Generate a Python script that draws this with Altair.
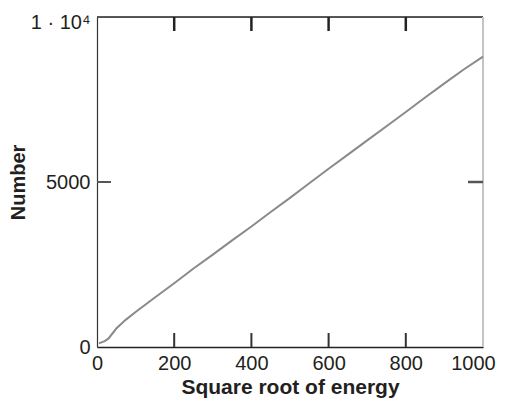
import altair as alt
import pandas as pd

# Data
sqrt_energy = [5, 20, 30, 50, 75, 100, 150, 200, 250, 300, 350, 400, 450, 500,
               550, 600, 650, 700, 750, 800, 850, 900, 950, 1000]
number = [110, 180, 260, 560, 830, 1060, 1500, 1930, 2380, 2800, 3230, 3650, 4090, 4520,
          4960, 5400, 5830, 6260, 6690, 7120, 7560, 7990, 8410, 8800]

x_ticks = [0, 200, 400, 600, 800, 1000]
y_ticks = [0, 5000, 10000]
x_inner_ticks = [200, 400, 600, 800]
y_inner_ticks = [5000]

W, H = 386, 330
FONT = "Liberation Sans"
TXT = "#231f20"

df = pd.DataFrame({"x": sqrt_energy, "y": number})
xt = pd.DataFrame({"x": x_inner_ticks})
yt = pd.DataFrame({"y": y_inner_ticks})

xscale = alt.Scale(domain=[0, 1000], nice=False, zero=False)
yscale = alt.Scale(domain=[0, 10000], nice=False, zero=False)

line = alt.Chart(df).mark_line(color="#8a8a8a", strokeWidth=2).encode(
    x=alt.X("x:Q", scale=xscale,
            axis=alt.Axis(title="Square root of energy", values=x_ticks, tickSize=0,
                          format="d",
                          grid=False, domainColor="#222", domainWidth=1.5,
                          labelFontSize=20, labelFont=FONT, labelColor=TXT, labelPadding=6,
                          labelOffset={"condition": {"test": "datum.value == 1000", "value": -10},
                                       "value": 0},
                          titleFontSize=21, titleFont=FONT, titleColor=TXT,
                          titleFontWeight="bold", titlePadding=3, labelFlush=False)),
    y=alt.Y("y:Q", scale=yscale,
            axis=alt.Axis(title="Number", values=y_ticks, tickSize=0, grid=False,
                          format="d",
                          domainColor="#333", domainWidth=1.2,
                          labelFontSize=20, labelFont=FONT, labelColor=TXT, labelPadding=7,
                          labelExpr="datum.value == 10000 ? '1 · 10⁴' : datum.label",
                          labelOffset={"condition": {"test": "datum.value == 10000", "value": 5},
                                       "value": 0},
                          titleFontSize=20, titleFont=FONT, titleColor=TXT,
                          titleFontWeight="bold", titlePadding=2, labelFlush=False)),
)

bottom_ticks = alt.Chart(xt).mark_rule(color="#333", strokeWidth=2).encode(
    x=alt.X("x:Q", scale=xscale), y=alt.value(H), y2=alt.value(H - 14))
top_ticks = alt.Chart(xt).mark_rule(color="#222", strokeWidth=2.5).encode(
    x=alt.X("x:Q", scale=xscale), y=alt.value(0), y2=alt.value(14))
left_ticks = alt.Chart(yt).mark_rule(color="#555", strokeWidth=2).encode(
    y=alt.Y("y:Q", scale=yscale), x=alt.value(0), x2=alt.value(14))
right_ticks = alt.Chart(yt).mark_rule(color="#555", strokeWidth=2.5).encode(
    y=alt.Y("y:Q", scale=yscale), x=alt.value(W - 15), x2=alt.value(W))

top_border = alt.Chart(yt).mark_rule(color="#222", strokeWidth=1.5).encode(
    x=alt.value(0), x2=alt.value(W), y=alt.value(0))
right_border = alt.Chart(yt).mark_rule(color="#c4c4c4", strokeWidth=2).encode(
    x=alt.value(W), y=alt.value(0), y2=alt.value(H))

chart = alt.layer(
    top_border, right_border, line, bottom_ticks, top_ticks, left_ticks, right_ticks
).properties(
    width=W, height=H,
    autosize=alt.AutoSizeParams(type="none"),
    padding={"left": 89, "top": 9, "right": 16, "bottom": 51},
).configure_view(stroke=None).configure(background="white")

chart.save("out.html", embed_options={"renderer": "svg", "actions": False})
